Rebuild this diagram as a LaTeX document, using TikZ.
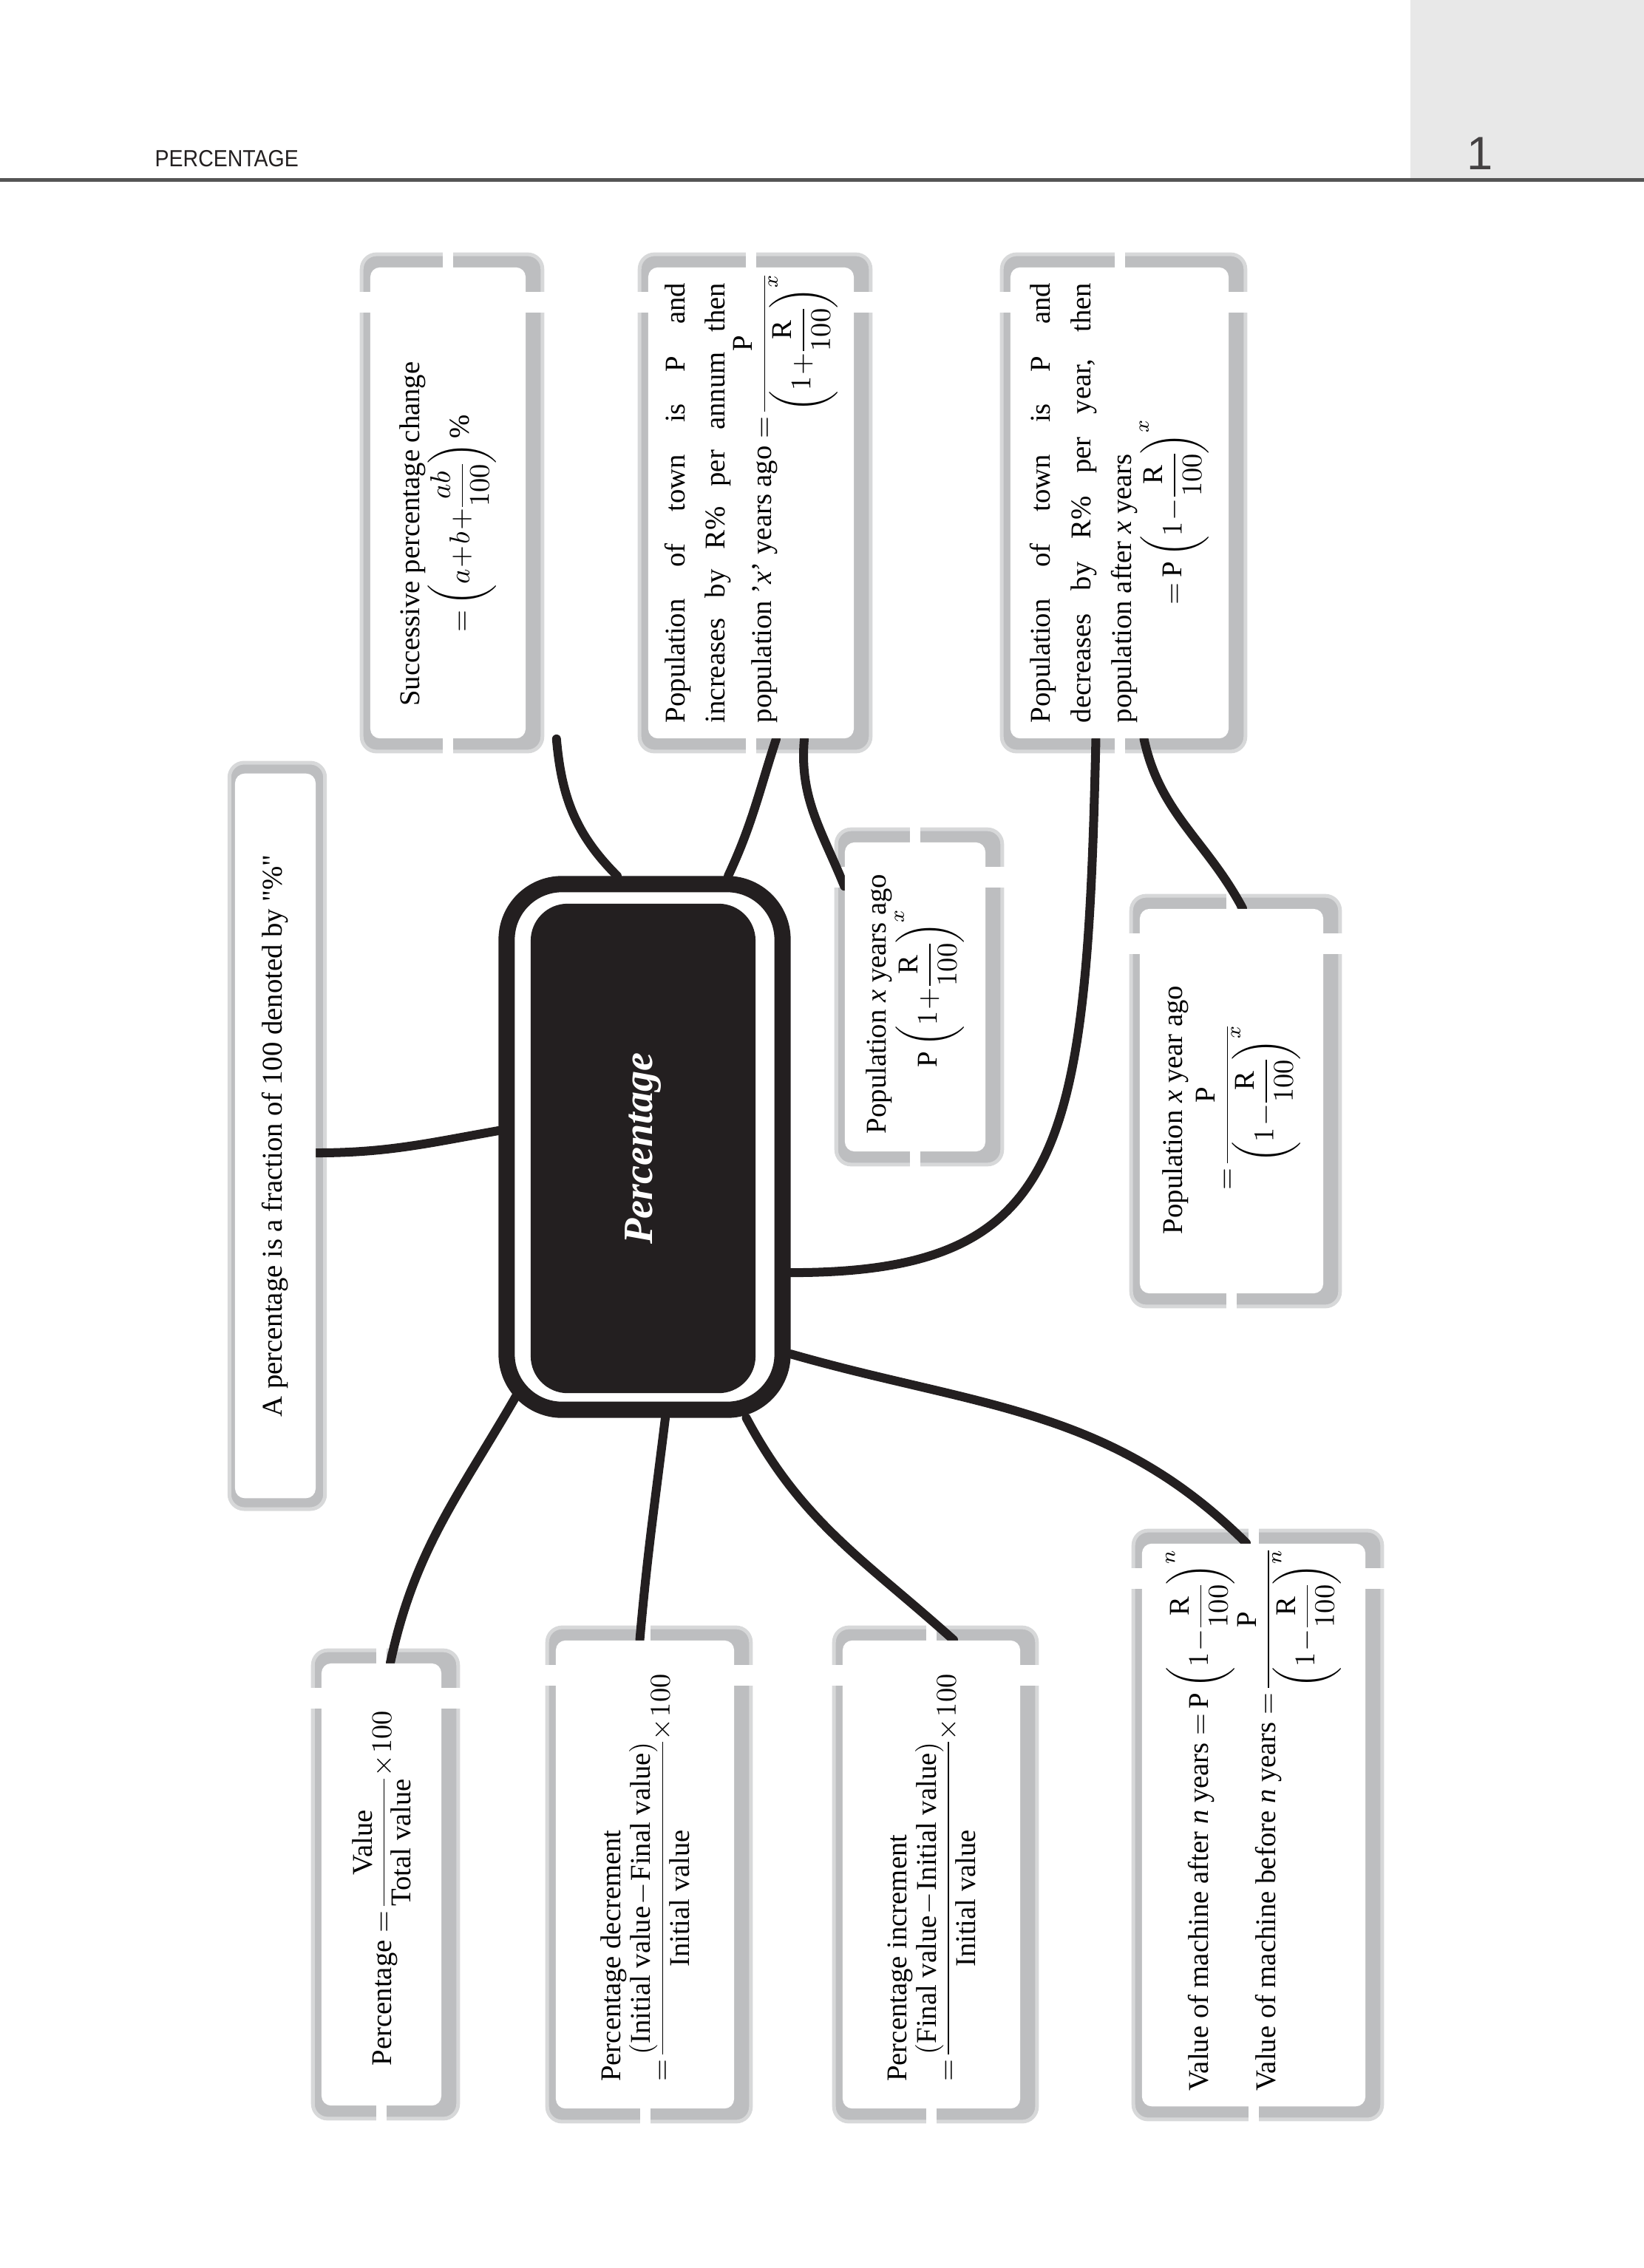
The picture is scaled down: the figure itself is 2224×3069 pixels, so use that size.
\documentclass[tikz,border=0pt]{standalone}
\usepackage{amsmath}
\usepackage{graphicx}
\usepackage{fontspec}
\setmainfont{Liberation Serif}
\newfontfamily\headfont{Liberation Sans}
\usetikzlibrary{positioning}

\definecolor{ink}{HTML}{231F20}
\definecolor{tabgray}{HTML}{E8E8E8}
\definecolor{rulegray}{HTML}{555555}
\definecolor{shadegray}{HTML}{BDBEC0}

\pgfdeclarelayer{shade}
\pgfdeclarelayer{wires}
\pgfsetlayers{shade,wires,main}

\newcommand{\tightmath}{\medmuskip=1mu\relax\thickmuskip=3mu\relax
  \nulldelimiterspace=0pt\relax\scriptspace=0pt\relax}
\newcommand{\cardtext}[2]{\rotatebox{90}{\parbox{#1}{\raggedright\tightmath #2}}}

\begin{document}
\begin{tikzpicture}[x=0.01cm, y=-0.01cm,
    card/.style={fill=white, rounded corners=0.13cm, inner sep=0pt,
                 font=\fontsize{11}{15.5}\selectfont},
    cardshade/.style={fill=shadegray, draw=shadegray!60, line width=0.05cm,
                      rounded corners=0.2cm},
    gapstrip/.style={fill=white},
    hub/.style={fill=ink, rounded corners=0.5cm, inner sep=0pt,
                minimum width=3.04cm, minimum height=6.62cm, text=white,
                font=\fontsize{16}{18}\selectfont\bfseries\itshape},
    ring/.style={draw=ink, line width=0.22cm, rounded corners=0.75cm,
                 minimum width=3.73cm, minimum height=7.11cm, inner sep=0pt},
    branch/.style={draw=ink, line width=0.12cm, line cap=round}
  ]
    \useasboundingbox (0,0) rectangle (2224,3069);

    % page head
    \fill[tabgray] (1908,0) rectangle (2224,241);
    \fill[rulegray] (0,241) rectangle (2224,246);
    \node[font=\headfont\fontsize{9}{10}\selectfont, anchor=west, inner sep=0pt, text=ink]
      (title) at (209,215) {\scalebox{0.9}[1]{PERCENTAGE}};
    \node[font=\headfont\fontsize{18}{20}\selectfont, inner sep=0pt, text=ink!85]
      (pageno) at (2002,208) {1};

    % centre
    \node[ring] (ring) at (872,1552) {};
    \node[hub] (hub) at (870,1554) {\rotatebox{90}{Percentage}};

    % cards
    \node[card, minimum width=1.09cm, minimum height=9.8cm] (defn) at (372.5,1537)
      {\rotatebox{90}{A percentage is a fraction of 100 denoted by \textquotedbl\%\textquotedbl}};
    \node[card, minimum width=2.10cm, minimum height=6.37cm] (succ) at (606,680.5)
      {\cardtext{5.5cm}{\mbox{Successive percentage change}\\
        \hspace*{1cm}\mbox{$=\left(a+b+\dfrac{ab}{100}\right)\%$}}};
    \node[card, minimum width=2.78cm, minimum height=6.37cm] (grow) at (1016,680.5)
      {\cardtext{5.95cm}{\makebox[\linewidth][s]{Population of town is P and}\\
        \makebox[\linewidth][s]{increases by R\% per annum then}\\
        \mbox{population '\textit{x}' years ago
        $=\dfrac{\mathrm{P}}{\left(1+\dfrac{\mathrm{R}}{100}\right)^{x}}$}}};
    \node[card, minimum width=2.95cm, minimum height=6.37cm] (decay) at (1514.5,680.5)
      {\cardtext{5.95cm}{\makebox[\linewidth][s]{Population of town is P and}\\
        \makebox[\linewidth][s]{decreases by R\% per year, then}\\
        \mbox{population after \textit{x} years}\\
        \hspace*{1.6cm}\mbox{$=\mathrm{P}\left(1-\dfrac{\mathrm{R}}{100}\right)^{x}$}}};
    \node[card, minimum width=1.90cm, minimum height=4.18cm] (agoplus) at (1238,1349)
      {\cardtext{3.7cm}{\mbox{Population \textit{x} years ago}\\
        \hspace*{0.9cm}\mbox{$\mathrm{P}\left(1+\dfrac{\mathrm{R}}{100}\right)^{x}$}}};
    \node[card, minimum width=2.48cm, minimum height=5.20cm] (agominus) at (1666,1490)
      {\cardtext{3.6cm}{\mbox{Population \textit{x} year ago}\\[2pt]
        \hspace*{0.6cm}\mbox{$=\dfrac{\mathrm{P}}{\left(1-\dfrac{\mathrm{R}}{100}\right)^{x}}$}}};
    \node[card, minimum width=1.62cm, minimum height=5.98cm] (ratio) at (516,2550)
      {\cardtext{4.9cm}{\mbox{Percentage $=\dfrac{\text{Value}}{\text{Total value}}\times 100$}}};
    \node[card, minimum width=2.41cm, minimum height=6.33cm] (decr) at (872.5,2536.5)
      {\cardtext{5.6cm}{\mbox{Percentage decrement}\\
        \mbox{$=\dfrac{(\text{Initial value}-\text{Final value})}{\text{Initial value}}\times 100$}}};
    \node[card, minimum width=2.40cm, minimum height=6.33cm] (incr) at (1260,2536.5)
      {\cardtext{5.6cm}{\mbox{Percentage increment}\\
        \mbox{$=\dfrac{(\text{Final value}-\text{Initial value})}{\text{Initial value}}\times 100$}}};
    \node[card, minimum width=3.02cm, minimum height=7.61cm] (machine) at (1696,2469.5)
      {\cardtext{7.2cm}{\mbox{Value of machine after \textit{n} years
        $=\mathrm{P}\left(1-\dfrac{\mathrm{R}}{100}\right)^{n}$}\\
        \mbox{Value of machine before \textit{n} years
        $=\dfrac{\mathrm{P}}{\left(1-\dfrac{\mathrm{R}}{100}\right)^{n}}$}}};

    % card shadows with their gaps
    \begin{pgfonlayer}{shade}
      \foreach \b in {succ,grow,decay,agoplus,agominus,ratio,decr,incr,machine} {
        \path[cardshade] ([shift={(-0.11cm,-0.17cm)}]\b.south west)
          rectangle ([shift={(0.22cm,0.17cm)}]\b.north east);
        \fill[gapstrip] ([shift={(-0.07cm,-0.3cm)}]\b.south)
          rectangle ([shift={(0.07cm,0.3cm)}]\b.north);
        \fill[gapstrip] ([shift={(-0.3cm,-0.34cm)}]\b.north west)
          rectangle ([shift={(0.4cm,-0.62cm)}]\b.north east);
      }
      \path[cardshade] ([shift={(-0.07cm,-0.14cm)}]defn.south west)
        rectangle ([shift={(0.12cm,0.14cm)}]defn.north east);
    \end{pgfonlayer}

    % branches
    \begin{pgfonlayer}{wires}
      \draw[branch] ([yshift=0.22cm]ring.west) to[out=190, in=0] ([yshift=-0.23cm]defn.east);
      \draw[branch] ([xshift=0.41cm]succ.south east) to[out=-85, in=135] ([xshift=-0.37cm]ring.north);
      \draw[branch] ([xshift=1.13cm]ring.north) to[out=65, in=-108] ([xshift=0.34cm]grow.south);
      \draw[branch] ([xshift=0.72cm]grow.south) to[out=-95, in=112] ([yshift=-0.6cm]agoplus.north west);
      \draw[branch] ([xshift=-0.32cm]decay.south) .. controls (1470,1560) and (1440,1722) .. ([yshift=-1.7cm]ring.east);
      \draw[branch] ([xshift=0.33cm]decay.south) to[out=-78, in=118] ([xshift=0.15cm]agominus.north);
      \draw[branch] ([shift={(0.24cm,0.3cm)}]ring.south west) to[out=-120, in=78] ([xshift=0.12cm]ratio.north);
      \draw[branch] ([xshift=0.28cm]ring.south) to[out=-97, in=85] ([xshift=-0.07cm]decr.north);
      \draw[branch] ([xshift=-0.6cm]ring.south east) to[out=-62, in=138] ([xshift=0.3cm]incr.north);
      \draw[branch] ([yshift=-2.8cm]ring.east) to[out=-16, in=135] ([xshift=-0.1cm]machine.north);
    \end{pgfonlayer}
  \end{tikzpicture}
\end{document}
